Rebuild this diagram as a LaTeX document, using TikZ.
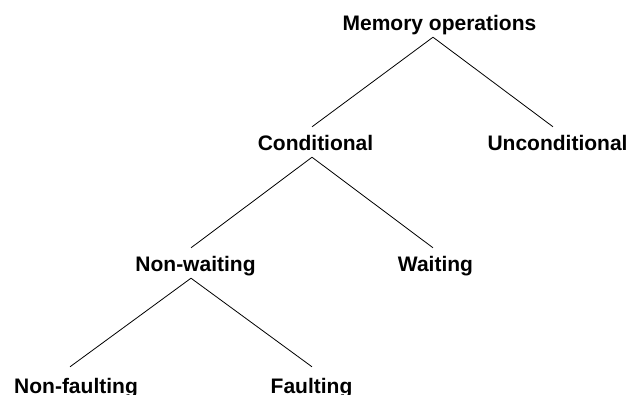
\documentclass[tikz,border=0pt]{standalone}
\usepackage{fontspec}
\setmainfont{Liberation Sans}
\begin{document}
\begin{tikzpicture}[x=1pt,y=-1pt,
  cat/.style={font=\fontsize{21}{25}\selectfont\bfseries, anchor=base,
              inner xsep=0pt, inner ysep=0pt, text height=23pt, text depth=7pt},
  leaf/.style={cat, text height=26pt},
  branch/.style={draw=black, line width=0.8pt}]
  \useasboundingbox (0,0) rectangle (632,394);

  % category labels, placed on their baselines
  \node[cat]  (mem)    at (439.5,30)  {Memory operations};
  \node[cat]  (cond)   at (315.5,150) {Conditional};
  \node[cat]  (uncond) at (557.5,150) {Unconditional};
  \node[cat]  (nonw)   at (195.5,271) {Non-waiting};
  \node[cat]  (wait)   at (435.5,271) {Waiting};
  \node[leaf] (nonf)   at (76,393)    {Non-faulting};
  \node[leaf] (faul)   at (311.5,393) {Faulting};

  % tree branches
  \draw[branch] ([xshift=-6.5pt]mem.south)  -- ([xshift=-3.5pt]cond.north);
  \draw[branch] ([xshift=-6.5pt]mem.south)  -- ([xshift=-4.5pt]uncond.north);
  \draw[branch] ([xshift=-3.5pt]cond.south) -- ([xshift=-4.5pt]nonw.north);
  \draw[branch] ([xshift=-3.5pt]cond.south) -- ([xshift=-2.5pt]wait.north);
  \draw[branch] ([xshift=-4.5pt]nonw.south) -- ([xshift=-6pt]nonf.north);
  \draw[branch] ([xshift=-4.5pt]nonw.south) -- ([xshift=0.5pt]faul.north);
\end{tikzpicture}
\end{document}
